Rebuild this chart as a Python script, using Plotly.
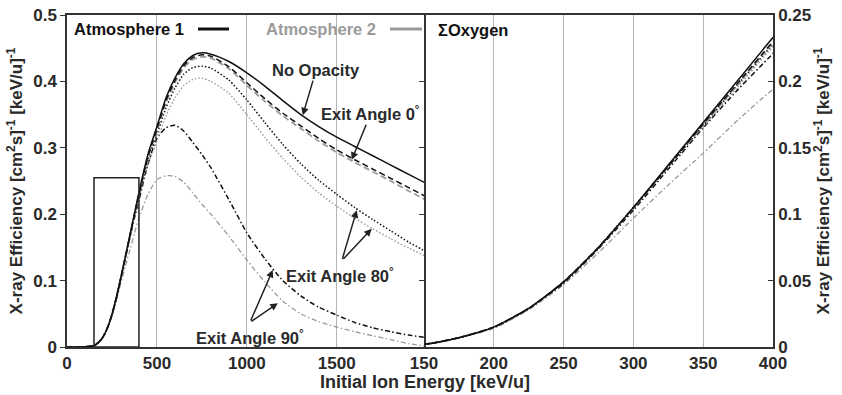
import plotly.graph_objects as go

# ---------------- data ----------------
energy = [0, 50, 100, 150, 175, 200, 225, 250, 275, 300, 325, 350, 375, 400,
          450, 500, 550, 600, 650, 700, 750, 800, 900, 1000, 1100, 1200, 1300,
          1400, 1500, 1600, 1700, 1800, 1900, 2000]

no_opacity = [0, 0, 0.0003, 0.002, 0.007, 0.015, 0.029, 0.049, 0.075, 0.105, 0.137, 0.169, 0.201, 0.233,
              0.29, 0.332, 0.375, 0.405, 0.427, 0.439, 0.443, 0.441, 0.43, 0.413, 0.393, 0.371, 0.350,
              0.332, 0.316, 0.302, 0.288, 0.274, 0.260, 0.246]

exit0_atm1 = [0, 0, 0.0003, 0.002, 0.007, 0.015, 0.029, 0.049, 0.075, 0.105, 0.136, 0.168, 0.199, 0.230,
              0.287, 0.328, 0.371, 0.401, 0.424, 0.436, 0.440, 0.438, 0.422, 0.398, 0.374, 0.352, 0.333,
              0.314, 0.297, 0.282, 0.268, 0.254, 0.240, 0.226]

exit0_atm2 = [0, 0, 0.0003, 0.002, 0.007, 0.015, 0.029, 0.049, 0.075, 0.105, 0.136, 0.167, 0.198, 0.229,
              0.285, 0.325, 0.368, 0.398, 0.421, 0.433, 0.437, 0.435, 0.419, 0.394, 0.370, 0.348, 0.329,
              0.310, 0.293, 0.278, 0.264, 0.250, 0.235, 0.221]

exit80_atm1 = [0, 0, 0.0003, 0.002, 0.007, 0.015, 0.029, 0.049, 0.075, 0.105, 0.136, 0.167, 0.198, 0.228,
               0.282, 0.320, 0.360, 0.390, 0.411, 0.421, 0.423, 0.420, 0.402, 0.372, 0.338, 0.305, 0.276,
               0.251, 0.230, 0.210, 0.192, 0.175, 0.158, 0.143]

exit80_atm2 = [0, 0, 0.0003, 0.002, 0.007, 0.015, 0.029, 0.049, 0.075, 0.105, 0.136, 0.166, 0.196, 0.226,
               0.275, 0.310, 0.348, 0.375, 0.394, 0.403, 0.405, 0.400, 0.382, 0.350, 0.316, 0.284, 0.256,
               0.232, 0.212, 0.194, 0.178, 0.163, 0.149, 0.136]

exit90_atm1 = [0, 0, 0.0003, 0.002, 0.007, 0.015, 0.029, 0.048, 0.074, 0.103, 0.134, 0.165, 0.194, 0.221,
               0.275, 0.314, 0.330, 0.334, 0.325, 0.308, 0.290, 0.270, 0.222, 0.172, 0.133, 0.100, 0.077,
               0.060, 0.048, 0.037, 0.029, 0.023, 0.018, 0.014]

exit90_atm2 = [0, 0, 0.0003, 0.002, 0.007, 0.014, 0.028, 0.047, 0.071, 0.097, 0.122, 0.146, 0.171, 0.194,
               0.230, 0.252, 0.258, 0.257, 0.248, 0.232, 0.215, 0.200, 0.167, 0.131, 0.098, 0.069, 0.050,
               0.038, 0.030, 0.023, 0.017, 0.011, 0.005, 0.001]

zoom_box = {"x0": 150, "x1": 400, "y0": 0, "y1": 0.255}

left_xticks = [0, 500, 1000, 1500]
right_xticks = [150, 200, 250, 300, 350, 400]
left_yticks = [0, 0.1, 0.2, 0.3, 0.4, 0.5]
right_yticks = [0, 0.05, 0.1, 0.15, 0.2, 0.25]

# ---------------- styles ----------------
BLACK = "#111111"
GRAY = "#9a9a9a"
TXT = "#2a2a2a"
FONT = "Liberation Sans"

series = [
    (exit90_atm2, GRAY, "5px,2.5px,1.5px,2.5px", 1.3),
    (exit90_atm1, BLACK, "5px,2.5px,1.5px,2.5px", 1.5),
    (exit80_atm2, GRAY, "1.5px,2px", 1.4),
    (exit80_atm1, BLACK, "1.5px,2px", 1.5),
    (exit0_atm2, GRAY, "6px,3.5px", 1.8),
    (exit0_atm1, BLACK, "6px,3.5px", 1.5),
    (no_opacity, BLACK, "solid", 1.5),
]

fig = go.Figure()
for vals, col, dash, w in series:
    for xa, ya in (("x", "y"), ("x2", "y2")):
        fig.add_trace(go.Scatter(
            x=energy, y=vals, xaxis=xa, yaxis=ya, mode="lines",
            line=dict(color=col, dash=dash, width=w, shape="spline", smoothing=0.6),
            showlegend=False, hoverinfo="skip"))

# invisible trace for mirrored tick marks on the left panel's right edge
fig.add_trace(go.Scatter(x=[None], y=[None], xaxis="x", yaxis="y3", showlegend=False))

split = (424 - 67) / 706

tickfont = dict(family=FONT, size=17, color=TXT, weight="bold")
axcommon = dict(showline=True, linecolor="#333333", linewidth=1.5,
                zeroline=False, automargin=False, tickfont=tickfont)

ytitle = "X-ray Efficiency [cm<sup>2</sup>s]<sup>-1</sup> [keV/u]<sup>-1</sup>"

fig.update_layout(
    width=842, height=395,
    margin=dict(l=67, r=69, t=15, b=48),
    paper_bgcolor="white", plot_bgcolor="white",
    xaxis=dict(domain=[0, split], range=[0, 1985], anchor="y", tickvals=left_xticks, mirror=True,
               showgrid=True, gridcolor="#b5b5b5", gridwidth=1, ticks="", **axcommon),
    xaxis2=dict(domain=[split, 1], range=[150, 400], anchor="y2", tickvals=right_xticks, mirror=True,
                showgrid=True, gridcolor="#b5b5b5", gridwidth=1, ticks="", **axcommon),
    yaxis=dict(domain=[0, 1], range=[0, 0.5], anchor="x", tickvals=left_yticks, mirror=True,
               showgrid=False, ticks="outside", ticklen=5, tickcolor="#333333",
               title=dict(text=ytitle, font=dict(family=FONT, size=17, color=TXT, weight="bold"),
                          standoff=6),
               **axcommon),
    yaxis2=dict(domain=[0, 1], range=[0, 0.25], anchor="x2", side="right", tickvals=right_yticks,
                mirror=False, showgrid=False, ticks="inside", ticklen=5, tickcolor="#333333",
                title=dict(text=ytitle, font=dict(family=FONT, size=17, color=TXT, weight="bold"),
                           standoff=6),
                **axcommon),
    yaxis3=dict(overlaying="y", anchor="x", side="right", range=[0, 0.5],
                tickvals=[0.1, 0.2, 0.3, 0.4], ticks="inside", ticklen=5, tickcolor="#333333",
                showticklabels=False, showgrid=False, zeroline=False, showline=False),
)

# zoom rectangle
fig.add_shape(type="rect", xref="x", yref="y", line=dict(color="#222222", width=1.5),
              fillcolor="rgba(0,0,0,0)", **zoom_box)

def px(xp):
    return (xp - 67) / 706

def py(yp):
    return (347 - yp) / 332

# legend-like text and line samples
fig.add_annotation(xref="paper", yref="paper", x=px(72), y=py(29), xanchor="left", yanchor="middle",
                   text="<b>Atmosphere 1</b>", showarrow=False,
                   font=dict(family=FONT, size=16.5, color=BLACK))
fig.add_shape(type="line", xref="paper", yref="paper", x0=px(198), x1=px(229), y0=py(29), y1=py(29),
              line=dict(color=BLACK, width=3))
fig.add_annotation(xref="paper", yref="paper", x=px(264), y=py(29), xanchor="left", yanchor="middle",
                   text="<b>Atmosphere 2</b>", showarrow=False,
                   font=dict(family=FONT, size=16.5, color=GRAY))
fig.add_shape(type="line", xref="paper", yref="paper", x0=px(390), x1=px(422), y0=py(29), y1=py(29),
              line=dict(color=GRAY, width=3))
fig.add_annotation(xref="paper", yref="paper", x=px(436), y=py(30), xanchor="left", yanchor="middle",
                   text="<b>ΣOxygen</b>", showarrow=False,
                   font=dict(family=FONT, size=16.5, color=BLACK))

# x title
fig.add_annotation(xref="paper", yref="paper", x=px(425), y=py(382), xanchor="center", yanchor="middle",
                   text="<b>Initial Ion Energy [keV/u]</b>", showarrow=False,
                   font=dict(family=FONT, size=18, color=TXT))

afont = dict(family=FONT, size=16.5, color=TXT)
arrow = dict(showarrow=True, arrowhead=2, arrowsize=1.0, arrowwidth=1.5, arrowcolor="#222222",
             axref="x", ayref="y", xref="x", yref="y")

# No Opacity
fig.add_annotation(x=1311, y=0.349, ax=1385, ay=0.417, text="<b>No Opacity</b>", font=afont, **arrow)
# Exit Angle 0
fig.add_annotation(x=1583, y=0.282, ax=1690, ay=0.352, text="<b>Exit Angle 0<sup>°</sup></b>",
                   font=afont, **arrow)
# Exit Angle 80
fig.add_annotation(x=1517, y=0.108, text="<b>Exit Angle 80<sup>°</sup></b>", showarrow=False,
                   xref="x", yref="y", font=afont)
fig.add_annotation(x=1611, y=0.206, ax=1528, ay=0.130, text=" ", font=dict(size=1), **arrow)
fig.add_annotation(x=1694, y=0.178, ax=1528, ay=0.130, text=" ", font=dict(size=1), **arrow)
# Exit Angle 90
fig.add_annotation(x=1017, y=0.015, text="<b>Exit Angle 90<sup>°</sup></b>", showarrow=False,
                   xref="x", yref="y", font=afont)
fig.add_annotation(x=1144, y=0.116, ax=1017, ay=0.037, text=" ", font=dict(size=1), **arrow)
fig.add_annotation(x=1172, y=0.066, ax=1017, ay=0.037, text=" ", font=dict(size=1), **arrow)

fig.write_html("out.html")
